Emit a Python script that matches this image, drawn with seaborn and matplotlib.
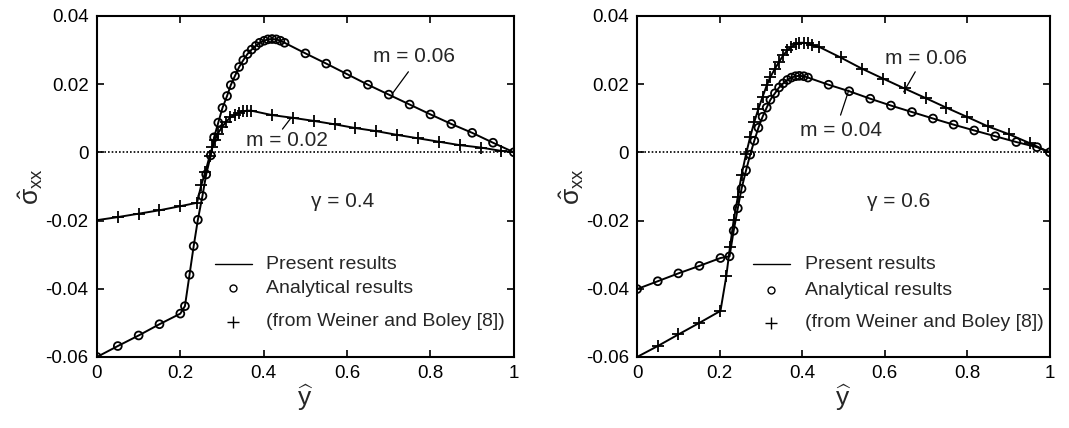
import matplotlib
matplotlib.use("Agg")
import matplotlib.pyplot as plt
import seaborn as sns
import pandas as pd

# ---------------- data ----------------
# Left panel (gamma = 0.4)
left_x_m06 = [0, 0.05, 0.1, 0.15, 0.2, 0.211, 0.222, 0.232, 0.242, 0.253, 0.262, 0.273, 0.281,
              0.291, 0.301, 0.312, 0.321, 0.331, 0.341, 0.351, 0.361, 0.371, 0.381, 0.39, 0.401,
              0.41, 0.42, 0.43, 0.44, 0.45, 0.5, 0.55, 0.6, 0.65, 0.7, 0.75, 0.8, 0.85, 0.9,
              0.95, 1.0]
left_y_m06 = [-0.06, -0.0568, -0.0537, -0.0504, -0.0473, -0.0451, -0.0359, -0.0275, -0.0198,
              -0.0128, -0.0065, -0.0009, 0.0044, 0.0087, 0.013, 0.0165, 0.0197, 0.0224, 0.025,
              0.027, 0.0288, 0.0301, 0.0312, 0.0321, 0.0327, 0.0331, 0.0332, 0.0331, 0.0327,
              0.0321, 0.029, 0.026, 0.0229, 0.0198, 0.0169, 0.014, 0.0111, 0.0083, 0.0057,
              0.0028, 0.0]
left_x_m02 = [0, 0.05, 0.1, 0.15, 0.2, 0.24, 0.25, 0.26, 0.27, 0.277, 0.283, 0.29, 0.30, 0.31,
              0.32, 0.33, 0.34, 0.35, 0.36, 0.37, 0.42, 0.47, 0.52, 0.57, 0.62, 0.67, 0.72,
              0.77, 0.82, 0.87, 0.92, 0.97, 1.0]
left_y_m02 = [-0.0199, -0.019, -0.018, -0.017, -0.0158, -0.0148, -0.0097, -0.0058, -0.0012,
              0.0015, 0.0035, 0.0055, 0.0074, 0.009, 0.0102, 0.011, 0.0116, 0.012, 0.0122,
              0.0122, 0.0109, 0.0101, 0.0092, 0.0082, 0.0071, 0.0062, 0.0051, 0.0041, 0.0031,
              0.0021, 0.0014, 0.0004, 0.0]

# Right panel (gamma = 0.6)
right_x_m04 = [0, 0.05, 0.1, 0.151, 0.202, 0.224, 0.234, 0.244, 0.253, 0.264, 0.274, 0.284,
               0.294, 0.304, 0.314, 0.323, 0.334, 0.344, 0.354, 0.364, 0.374, 0.384, 0.393,
               0.404, 0.414, 0.464, 0.514, 0.565, 0.615, 0.666, 0.717, 0.767, 0.817, 0.868,
               0.919, 0.969, 1.0]
right_y_m04 = [-0.0401, -0.0378, -0.0355, -0.0333, -0.031, -0.0305, -0.023, -0.0164, -0.0107,
               -0.0053, -0.0007, 0.0034, 0.0072, 0.0104, 0.0131, 0.0154, 0.0173, 0.019, 0.0202,
               0.0212, 0.0219, 0.0223, 0.0224, 0.0223, 0.0219, 0.0198, 0.0179, 0.0157, 0.0137,
               0.0118, 0.0099, 0.0081, 0.0064, 0.0047, 0.003, 0.0015, 0.0]
right_x_m06 = [0, 0.05, 0.1, 0.151, 0.202, 0.216, 0.225, 0.234, 0.244, 0.253, 0.264, 0.274,
               0.284, 0.294, 0.304, 0.314, 0.323, 0.334, 0.344, 0.354, 0.364, 0.374, 0.384,
               0.393, 0.404, 0.414, 0.424, 0.441, 0.493, 0.545, 0.596, 0.648, 0.699, 0.749,
               0.799, 0.85, 0.901, 0.951, 1.0]
right_y_m06 = [-0.06, -0.0568, -0.0534, -0.05, -0.0465, -0.0364, -0.0278, -0.0199, -0.0131,
               -0.0067, -0.0005, 0.0045, 0.0089, 0.0128, 0.0162, 0.0196, 0.0221, 0.0245,
               0.0265, 0.0284, 0.0299, 0.0309, 0.0317, 0.0321, 0.0321, 0.0319, 0.0314, 0.0309,
               0.0278, 0.0245, 0.0216, 0.0187, 0.0159, 0.0131, 0.0104, 0.0076, 0.0053, 0.0027,
               0.0]

x_ticks = [0, 0.2, 0.4, 0.6, 0.8, 1.0]
x_tick_labels = ["0", "0.2", "0.4", "0.6", "0.8", "1"]
y_ticks = [-0.06, -0.04, -0.02, 0, 0.02, 0.04]
y_tick_labels = ["-0.06", "-0.04", "-0.02", "0", "0.02", "0.04"]

legend_labels = ["Present results", "Analytical results", "(from Weiner and Boley [8])"]

# ---------------- style ----------------
sns.set_style("ticks")
plt.rcParams["font.family"] = ["Liberation Sans", "DejaVu Sans"]
plt.rcParams["mathtext.fontset"] = "custom"
plt.rcParams["mathtext.rm"] = "Liberation Sans"
plt.rcParams["mathtext.it"] = "Liberation Sans"
plt.rcParams["mathtext.bf"] = "Liberation Sans:bold"

fig = plt.figure(figsize=(10.69, 4.28), dpi=100)
axL = fig.add_axes([0.0907, 0.166, 0.390, 0.797])
axR = fig.add_axes([0.596, 0.166, 0.386, 0.797])

LW = 1.4


def draw_curve(ax, xs, ys, marker, skip_first=False):
    df = pd.DataFrame({"x": xs, "y": ys})
    sns.lineplot(data=df, x="x", y="y", ax=ax, color="k", lw=LW, sort=False,
                 estimator=None, legend=False)
    mdf = df.iloc[1:] if skip_first else df
    if marker == "o":
        sns.scatterplot(data=mdf, x="x", y="y", ax=ax, marker="o", s=32,
                        facecolor="none", edgecolor="k", linewidth=1.3, legend=False,
                        zorder=3)
    else:
        sns.scatterplot(data=mdf, x="x", y="y", ax=ax, marker="+", s=75,
                        color="k", linewidth=1.3, legend=False, zorder=3)


def style_axes(ax):
    ax.set_xlim(0, 1)
    ax.set_ylim(-0.06, 0.04)
    ax.set_xticks(x_ticks)
    ax.set_xticklabels(x_tick_labels)
    ax.set_yticks(y_ticks)
    ax.set_yticklabels(y_tick_labels)
    ax.tick_params(direction="in", length=5, width=1.2, top=True, right=True,
                   labelsize=13.5, pad=6, colors="k")
    for sp in ax.spines.values():
        sp.set_visible(True)
        sp.set_linewidth(1.5)
        sp.set_color("k")
    ax.axhline(0, color="k", lw=1.2, ls=(0, (1, 1.2)), zorder=1)
    ax.set_xlabel(r"$\widehat{y}$", fontsize=19, labelpad=0)
    ax.set_ylabel(r"$\hat{\sigma}_{xx}$", fontsize=19, labelpad=0)


def draw_legend(ax, x_line0, x_line1, x_text, y_rows):
    ax.plot([x_line0, x_line1], [y_rows[0], y_rows[0]], color="k", lw=1.0)
    xm = 0.5 * (x_line0 + x_line1)
    ax.plot([xm], [y_rows[1]], marker="o", ms=5, mfc="none", mec="k", mew=1.0)
    ax.plot([xm], [y_rows[2]], marker="+", ms=9, color="k", mew=1.0)
    for lab, yy in zip(legend_labels, y_rows):
        ax.text(x_text, yy, lab, fontsize=14, ha="left", va="center")


# ---------------- left panel ----------------
draw_curve(axL, left_x_m06, left_y_m06, "o")
draw_curve(axL, left_x_m02, left_y_m02, "+", skip_first=True)
style_axes(axL)
axL.text(0.76, 0.0282, "m = 0.06", fontsize=15, ha="center", va="center")
axL.plot([0.747, 0.708], [0.0236, 0.0171], color="k", lw=0.9)
axL.text(0.455, 0.0035, "m = 0.02", fontsize=15, ha="center", va="center")
axL.plot([0.445, 0.465], [0.0068, 0.0100], color="k", lw=0.9)
axL.text(0.59, -0.0145, "\u03b3 = 0.4", fontsize=15, ha="center", va="center")
draw_legend(axL, 0.283, 0.372, 0.405, [-0.0328, -0.0398, -0.0497])

# ---------------- right panel ----------------
draw_curve(axR, right_x_m04, right_y_m04, "o")
draw_curve(axR, right_x_m06, right_y_m06, "+", skip_first=True)
style_axes(axR)
axR.text(0.70, 0.0275, "m = 0.06", fontsize=15, ha="center", va="center")
axR.plot([0.674, 0.646], [0.0236, 0.0177], color="k", lw=0.9)
axR.text(0.493, 0.0065, "m = 0.04", fontsize=15, ha="center", va="center")
axR.plot([0.493, 0.513], [0.0109, 0.0182], color="k", lw=0.9)
axR.text(0.634, -0.0145, "\u03b3 = 0.6", fontsize=15, ha="center", va="center")
draw_legend(axR, 0.28, 0.37, 0.407, [-0.0328, -0.0404, -0.0500])

fig.savefig("out.png", dpi=100)
